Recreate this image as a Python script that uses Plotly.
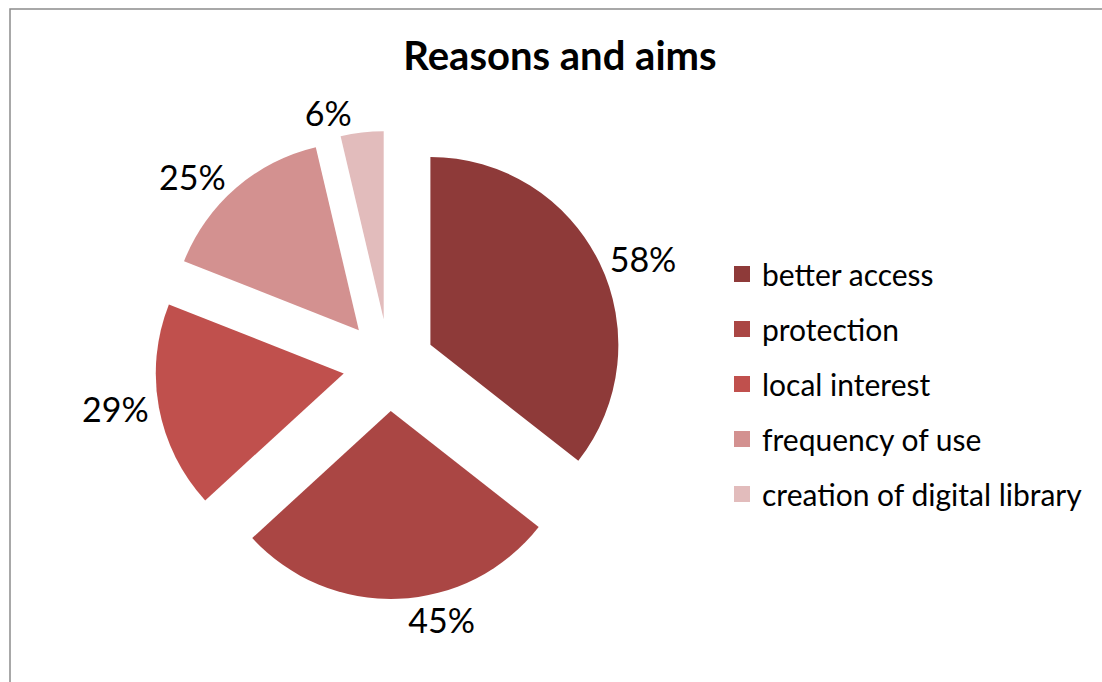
import plotly.graph_objects as go

categories = ["better access", "protection", "local interest", "frequency of use", "creation of digital library"]
values = [58, 45, 29, 25, 6]
colors = ["#8E3A39", "#AA4644", "#C0504D", "#D39190", "#E2BCBC"]
title_text = "Reasons and aims"

W, H = 1102, 682
cx, cy, half = 389, 365, 234

fig = go.Figure()
fig.add_trace(go.Pie(
    labels=categories,
    values=values,
    sort=False,
    direction="clockwise",
    rotation=0,
    pull=[0.245] * len(values),
    marker=dict(colors=colors, line=dict(width=0)),
    texttemplate="%{value}%",
    textposition="outside",
    outsidetextfont=dict(family="Lato", size=34, color="#000000"),
    showlegend=False,
    automargin=False,
    domain=dict(x=[(cx - half) / W, (cx + half) / W],
                y=[1 - (cy + half) / H, 1 - (cy - half) / H]),
    hoverinfo="label+value",
))

for i, (name, col) in enumerate(zip(categories, colors)):
    fig.add_trace(go.Scatter(
        x=[None], y=[None], mode="markers", name=name,
        marker=dict(symbol="square", size=16, color=col),
        legendgroup=f"g{i}", showlegend=True,
    ))

fig.update_layout(
    width=W, height=H,
    margin=dict(l=0, r=0, t=0, b=0, pad=0, autoexpand=False),
    paper_bgcolor="white",
    plot_bgcolor="white",
    title=dict(text=title_text, x=560 / W, xanchor="center",
               y=1 - 56 / H, yanchor="middle", yref="container",
               font=dict(family="Lato", size=40, color="#000000", weight="bold")),
    xaxis=dict(visible=False),
    yaxis=dict(visible=False),
    legend=dict(x=722 / W, xanchor="left", y=1 - 248 / H, yanchor="top",
                font=dict(family="Lato", size=30, color="#000000"),
                tracegroupgap=13, bgcolor="rgba(0,0,0,0)"),
    shapes=[dict(type="rect", xref="paper", yref="paper",
                 x0=10 / W, x1=1.02, y0=-0.02, y1=1 - 9 / H,
                 line=dict(color="#8C8C8C", width=1.5), fillcolor="rgba(0,0,0,0)",
                 layer="below")],
)

fig.write_html("out.html")
